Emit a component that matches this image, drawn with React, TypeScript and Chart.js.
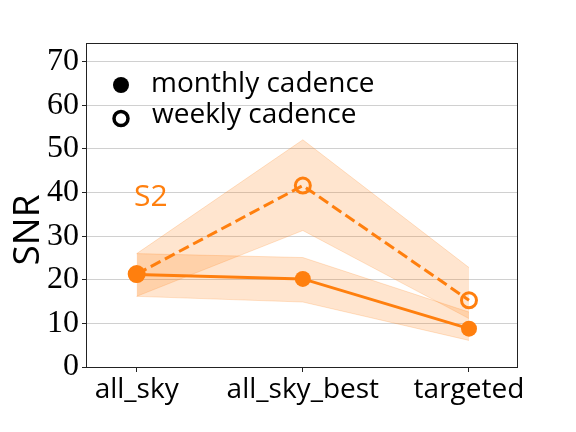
import React, { useEffect, useRef } from "react";
import { Chart, registerables } from "chart.js";

Chart.register(...registerables);

const categories = ["all_sky", "all_sky_best", "targeted"];
const yTicks = [0, 10, 20, 30, 40, 50, 60, 70];
const monthly = [21.2, 20.2, 8.8];
const monthlyLow = [16.2, 14.9, 6.1];
const monthlyHigh = [26.0, 25.1, 12.6];
const weekly = [21.3, 41.6, 15.3];
const weeklyLow = [16.2, 31.3, 11.1];
const weeklyHigh = [26.0, 52.1, 22.8];

const ORANGE = "#ff7f0e";
const BAND = "rgba(255,127,14,0.2)";
const SANS = "'Open Sans', sans-serif";
const SERIF = "'Liberation Serif', serif";

const pts = (arr: number[]) => arr.map((y, i) => ({ x: i, y }));

const extras = {
  id: "extras",
  afterDraw(chart: any) {
    const ctx = chart.ctx;
    const a = chart.chartArea;
    ctx.save();
    ctx.strokeStyle = "#222";
    ctx.lineWidth = 1;
    ctx.strokeRect(a.left + 0.5, a.top + 0.5, a.right - a.left - 1, a.bottom - a.top);
    // legend
    ctx.fillStyle = "#000";
    ctx.beginPath();
    ctx.arc(121, 85, 8, 0, Math.PI * 2);
    ctx.fill();
    ctx.strokeStyle = "#000";
    ctx.lineWidth = 3.5;
    ctx.beginPath();
    ctx.arc(121, 118.5, 7, 0, Math.PI * 2);
    ctx.stroke();
    ctx.font = `28px ${SANS}`;
    ctx.textBaseline = "alphabetic";
    ctx.textAlign = "left";
    ctx.fillText("monthly cadence", 151, 92);
    ctx.fillText("weekly cadence", 152, 123);
    // S2
    ctx.fillStyle = ORANGE;
    ctx.font = `30px ${SANS}`;
    ctx.fillText("S2", 134, 206);
    // y title
    ctx.fillStyle = "#000";
    ctx.font = `37px ${SANS}`;
    ctx.translate(39, 230);
    ctx.rotate(-Math.PI / 2);
    ctx.textAlign = "center";
    ctx.fillText("SNR", 0, 0);
    ctx.restore();
  },
};

export default function App() {
  const ref = useRef<HTMLCanvasElement>(null);
  useEffect(() => {
    if (!ref.current) return;
    const band = (data: number[], fill: any) => ({
      data: pts(data),
      borderColor: BAND,
      borderWidth: 1,
      backgroundColor: BAND,
      pointRadius: 0,
      fill,
      order: 10,
    });
    const chart = new Chart(ref.current, {
      type: "line",
      data: {
        datasets: [
          band(weeklyHigh, "+1"),
          band(weeklyLow, false),
          band(monthlyHigh, "+1"),
          band(monthlyLow, false),
          {
            data: pts(weekly),
            borderColor: ORANGE,
            borderWidth: 3,
            borderDash: [11, 5],
            pointRadius: 7.5,
            pointBorderWidth: 3,
            pointBackgroundColor: "rgba(0,0,0,0)",
            pointBorderColor: ORANGE,
            fill: false,
            order: 2,
          } as any,
          {
            data: pts(monthly),
            borderColor: ORANGE,
            borderWidth: 3,
            pointRadius: 8,
            pointBorderWidth: 0,
            pointBackgroundColor: ORANGE,
            fill: false,
            order: 1,
          } as any,
        ],
      },
      options: {
        responsive: false,
        animation: false,
        layout: { padding: { left: 0, top: 43, right: 58, bottom: 0 } },
        plugins: { legend: { display: false }, tooltip: { enabled: false } },
        scales: {
          x: {
            type: "linear",
            min: -0.305,
            max: 2.295,
            afterBuildTicks: (s: any) => {
              s.ticks = categories.map((_, i) => ({ value: i }));
            },
            afterFit: (s: any) => {
              s.height = 65;
            },
            grid: { drawOnChartArea: false, tickLength: 5, tickColor: "#222" },
            border: { display: false },
            ticks: {
              callback: (v: any) => categories[v] ?? "",
              color: "#000",
              font: { family: SANS, size: 28 },
              padding: 1,
              maxRotation: 0,
              autoSkip: false,
            },
          },
          y: {
            min: 0,
            max: 74.3,
            afterBuildTicks: (s: any) => {
              s.ticks = yTicks.map((v) => ({ value: v }));
            },
            afterFit: (s: any) => {
              s.width = 86;
            },
            grid: { color: "#d0d0d0", tickLength: 4, tickColor: "#222", lineWidth: 1 },
            border: { display: false },
            ticks: {
              color: "#000",
              font: { family: SERIF, size: 32 },
              padding: 3,
            },
          },
        },
      },
      plugins: [extras],
    });
    return () => chart.destroy();
  }, []);
  return (
    <div style={{ position: "fixed", left: 0, top: 0, width: 576, height: 432, background: "#fff" }}>
      <canvas ref={ref} width={576} height={432} style={{ display: "block" }} />
    </div>
  );
}
